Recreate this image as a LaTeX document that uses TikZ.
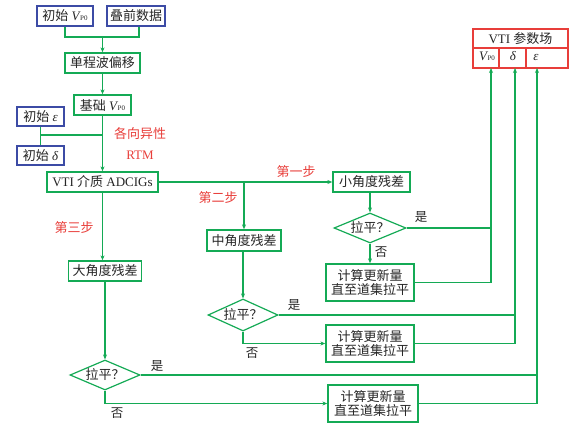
\documentclass[tikz,border=0pt]{standalone}
\usepackage{fontspec}
\setmainfont{Liberation Serif}
\newfontfamily\cjk{Noto Sans CJK SC}
\usetikzlibrary{arrows.meta,shapes.geometric,calc}
\definecolor{lg}{RGB}{20,170,85}
\definecolor{bg}{RGB}{60,75,165}
\definecolor{rd}{RGB}{232,62,58}
\newcommand{\zh}[1]{{\cjk #1}}
\newcommand{\vpo}{{\itshape V}\kern0.5pt{\fontsize{7}{8}\selectfont P0}}
\begin{document}
\begin{tikzpicture}[x=1pt,y=-1pt,
  every node/.style={font=\fontsize{13}{15.5}\selectfont, text=black!85},
  gbox/.style={draw=lg, line width=1.3pt, inner sep=0pt, fill=white},
  bbox/.style={draw=bg, line width=1.3pt, inner sep=0pt, fill=white},
  rcell/.style={draw=rd, line width=1.2pt, inner sep=0pt},
  ctext/.style={text height=9pt, text depth=3pt, inner sep=0pt},
  dia/.style={draw=lg, line width=1.2pt, shape=diamond, inner sep=0pt},
  ln/.style={draw=lg, line width=1.05pt},
  arr/.style={ln, -{Stealth[length=5pt,width=4pt]}},
  lbl/.style={text=rd, font=\fontsize{13}{15.5}\selectfont},
  yn/.style={font=\fontsize{12.5}{14}\selectfont}]
\useasboundingbox (0,0) rectangle (571,428);
% boxes
\node[bbox, minimum width=56pt, minimum height=20pt] (initV) at (65,16) {\zh{初始} \vpo};
\node[bbox, minimum width=58pt, minimum height=20pt] (stack) at (136,16) {\zh{叠前数据}};
\node[gbox, minimum width=75pt, minimum height=20pt] (mig) at (102.5,63) {\zh{单程波偏移}};
\node[gbox, minimum width=57pt, minimum height=20pt] (base) at (102.5,105) {\zh{基础} \vpo};
\node[bbox, minimum width=47pt, minimum height=19pt] (inite) at (40.5,116.5) {\zh{初始} {\itshape ε}};
\node[bbox, minimum width=47pt, minimum height=19pt] (initd) at (40.5,155.5) {\zh{初始} {\itshape δ}};
\node[gbox, minimum width=111pt, minimum height=20pt] (adc) at (102.5,182) {VTI \zh{介质} ADCIGs};
\node[gbox, minimum width=77pt, minimum height=20pt] (small) at (371.5,182) {\zh{小角度残差}};
\node[gbox, minimum width=74pt, minimum height=21pt] (mid) at (244,240.5) {\zh{中角度残差}};
\node[gbox, minimum width=73pt, minimum height=20pt] (large) at (105,271) {\zh{大角度残差}};
\node[dia, minimum width=72pt, minimum height=30pt] (d1) at (370,228) {};
\node at (d1) {\zh{拉平？}};
\node[dia, minimum width=70pt, minimum height=32pt] (d2) at (243,315) {};
\node at (d2) {\zh{拉平？}};
\node[dia, minimum width=70pt, minimum height=30pt] (d3) at (105,375) {};
\node at (d3) {\zh{拉平？}};
\node[gbox, minimum width=88pt, minimum height=37pt, align=center] (c1) at (370,282.5) {\zh{计算更新量}\\[-1.5pt]\zh{直至道集拉平}};
\node[gbox, minimum width=88pt, minimum height=37pt, align=center] (c2) at (370,343.5) {\zh{计算更新量}\\[-1.5pt]\zh{直至道集拉平}};
\node[gbox, minimum width=90pt, minimum height=37pt, align=center] (c3) at (373,403.5) {\zh{计算更新量}\\[-1.5pt]\zh{直至道集拉平}};
% table
\node[rcell, minimum width=95pt, minimum height=19pt] (ttl) at (520.5,38.5) {VTI \zh{参数场}};
\node[rcell, minimum width=26pt, minimum height=20pt] (vp) at (486,58) {};
\node[rcell, minimum width=27pt, minimum height=20pt] (dd) at (512.5,58) {};
\node[rcell, minimum width=42pt, minimum height=20pt] (ee) at (547,58) {};
\node[ctext] (vpt) at (487,58) {\vpo};
\node[ctext] (ddt) at (513,58) {{\itshape δ}};
\node[ctext] (eet) at (536,58) {{\itshape ε}};
\coordinate (tV) at (491,68);
\coordinate (tD) at (515,68);
\coordinate (tE) at (537,68);
% labels
\node[lbl] at (140,134) {\zh{各向异性}};
\node[lbl] at (140,155) {RTM};
\node[lbl] at (296,172) {\zh{第一步}};
\node[lbl] at (218,198) {\zh{第二步}};
\node[lbl] at (74,228) {\zh{第三步}};
\node[yn] at (421,217) {\zh{是}};
\node[yn] at (381,252) {\zh{否}};
\node[yn] at (294,305) {\zh{是}};
\node[yn] at (252,353) {\zh{否}};
\node[yn] at (157,366) {\zh{是}};
\node[yn] at (117,413) {\zh{否}};
% connectors
\coordinate (j1) at (102.5,37);
\draw[ln] (initV.south) |- (j1);
\draw[ln] ($(stack.south)+(3,0)$) |- (j1);
\draw[arr] (j1) -- (mig.north);
\draw[arr] (mig.south) -- (base.north);
\draw[ln] (inite.south) -- (initd.north);
\coordinate (j2) at (40.5,135);
\draw[ln] (j2) -- (j2 -| base.south);
\draw[arr] (base.south) -- (adc.north);
\draw[arr] (adc.east) -- (small.west);
\coordinate (j3) at (244,182);
\draw[arr] (j3) -- (mid.north);
\draw[arr] (adc.south) -- (adc.south |- large.north);
\draw[arr] (small.south -| d1.north) -- (d1.north);
\draw[arr] (d1.south) -- (c1.north);
\draw[ln] (d1.east) -- (d1.east -| tV);
\draw[arr] (c1.east) -| (tV);
\draw[arr] (mid.south -| d2.north) -- (d2.north);
\draw[ln] (d2.east) -- (d2.east -| tD);
\draw[arr] (c2.east) -| (tD);
\draw[arr] (d2.south) |- (c2.west);
\draw[arr] (large.south) -- (d3.north);
\draw[ln] (d3.east) -- (d3.east -| tE);
\draw[arr] (c3.east) -| (tE);
\draw[arr] (d3.south) |- (c3.west);
\end{tikzpicture}
\end{document}
